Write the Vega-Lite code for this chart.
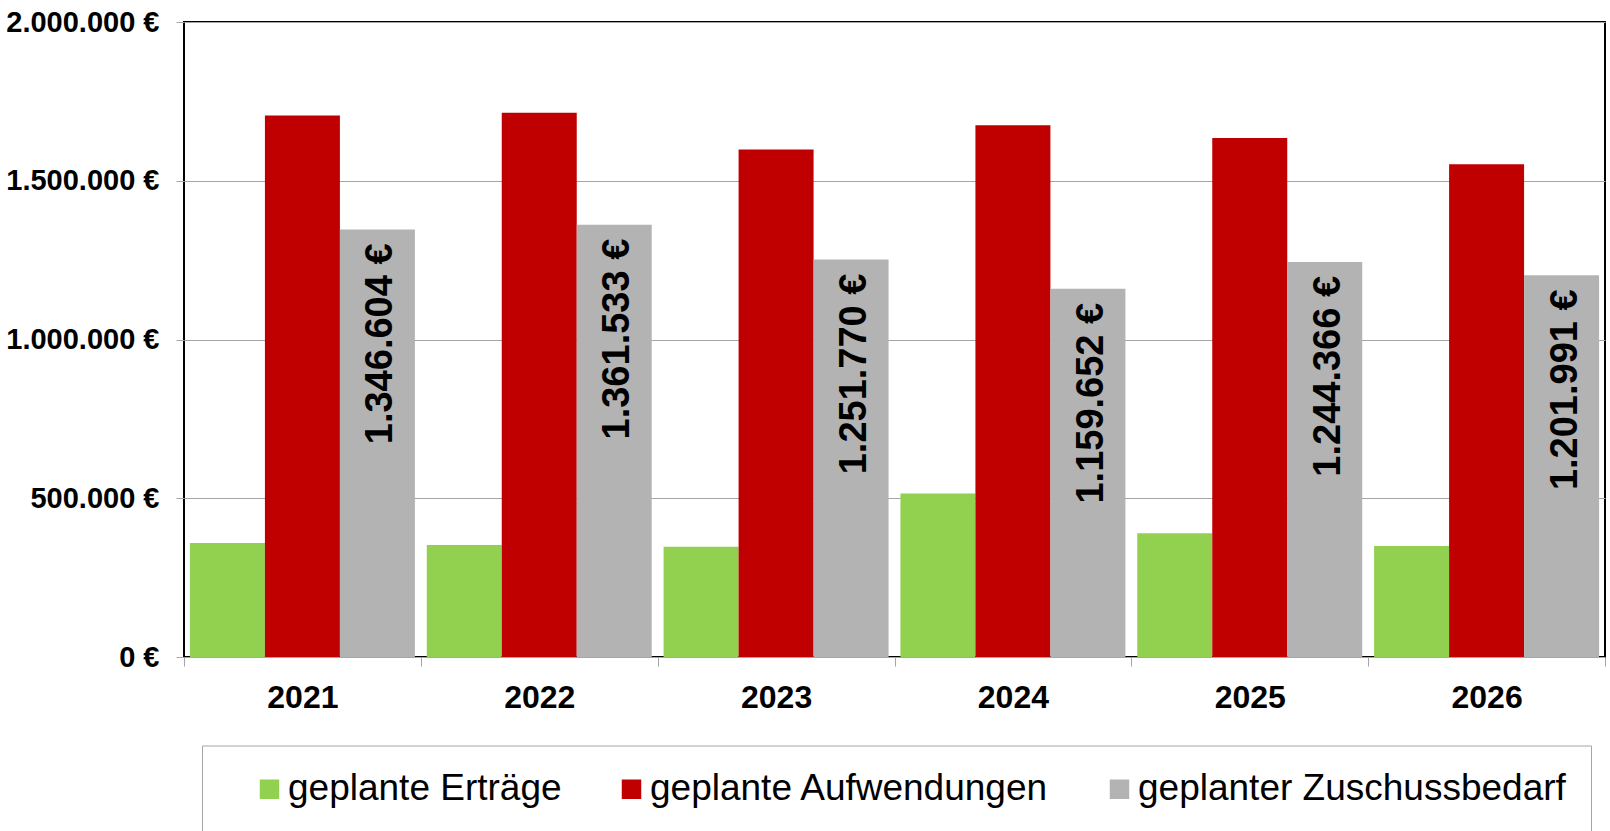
{
  "$schema": "https://vega.github.io/schema/vega-lite/v6.json",
  "width": 1421,
  "height": 635,
  "autosize": {"type": "none"},
  "padding": {"left": 184, "top": 22, "right": 5, "bottom": 174},
  "background": "white",
  "config": {
    "locale": {
      "number": {"decimal": ",", "thousands": ".", "grouping": [3], "currency": ["", " €"]}
    },
    "font": "Liberation Sans",
    "view": {"stroke": "#000000", "strokeWidth": 2}
  },
  "data": {
    "values": [
      {"year": "2021", "series": "geplante Erträge", "value": 359000},
      {"year": "2021", "series": "geplante Aufwendungen", "value": 1705604},
      {"year": "2021", "series": "geplanter Zuschussbedarf", "value": 1346604},
      {"year": "2022", "series": "geplante Erträge", "value": 353000},
      {"year": "2022", "series": "geplante Aufwendungen", "value": 1714533},
      {"year": "2022", "series": "geplanter Zuschussbedarf", "value": 1361533},
      {"year": "2023", "series": "geplante Erträge", "value": 347000},
      {"year": "2023", "series": "geplante Aufwendungen", "value": 1598770},
      {"year": "2023", "series": "geplanter Zuschussbedarf", "value": 1251770},
      {"year": "2024", "series": "geplante Erträge", "value": 515000},
      {"year": "2024", "series": "geplante Aufwendungen", "value": 1674652},
      {"year": "2024", "series": "geplanter Zuschussbedarf", "value": 1159652},
      {"year": "2025", "series": "geplante Erträge", "value": 390000},
      {"year": "2025", "series": "geplante Aufwendungen", "value": 1634366},
      {"year": "2025", "series": "geplanter Zuschussbedarf", "value": 1244366},
      {"year": "2026", "series": "geplante Erträge", "value": 350000},
      {"year": "2026", "series": "geplante Aufwendungen", "value": 1551991},
      {"year": "2026", "series": "geplanter Zuschussbedarf", "value": 1201991}
    ]
  },
  "encoding": {
    "x": {
      "field": "year",
      "type": "nominal",
      "title": null,
      "scale": {"paddingInner": 0, "paddingOuter": 0},
      "axis": {
        "tickBand": "extent",
        "domain": false,
        "ticks": true,
        "tickColor": "#a6a6a6",
        "tickSize": 9,
        "tickWidth": 1,
        "labelAngle": 0,
        "labelFont": "Liberation Sans",
        "labelFontSize": 32,
        "labelFontWeight": "bold",
        "labelColor": "#000000",
        "labelPadding": 16
      }
    },
    "xOffset": {
      "field": "series",
      "type": "nominal",
      "scale": {
        "domain": ["geplante Erträge", "geplante Aufwendungen", "geplanter Zuschussbedarf"],
        "paddingInner": 0,
        "paddingOuter": 0.079
      }
    },
    "y": {
      "field": "value",
      "type": "quantitative",
      "title": null,
      "scale": {"domain": [0, 2000000], "nice": false},
      "axis": {
        "values": [0, 500000, 1000000, 1500000, 2000000],
        "format": "$,.0f",
        "domain": false,
        "grid": true,
        "gridColor": "#a6a6a6",
        "gridWidth": 1,
        "tickColor": "#a6a6a6",
        "tickSize": 8,
        "labelFont": "Liberation Sans",
        "labelFontSize": 29,
        "labelFontWeight": "bold",
        "labelColor": "#000000",
        "labelPadding": 17,
        "labelOverlap": false,
        "labelFlush": false
      }
    }
  },
  "layer": [
    {
      "mark": {"type": "bar"},
      "encoding": {
        "color": {
          "field": "series",
          "type": "nominal",
          "scale": {
            "domain": ["geplante Erträge", "geplante Aufwendungen", "geplanter Zuschussbedarf"],
            "range": ["#92d050", "#c00000", "#b3b3b3"]
          },
          "legend": {
            "title": null,
            "orient": "none",
            "legendX": 18,
            "legendY": 723.5,
            "direction": "horizontal",
            "columns": 3,
            "strokeColor": "#a6a6a6",
            "fillColor": "#ffffff",
            "padding": 25,
            "symbolType": "square",
            "symbolSize": 380,
            "symbolStrokeWidth": 0,
            "symbolOpacity": 1,
            "symbolOffset": 24,
            "labelOffset": 0,
            "labelFont": "Liberation Sans",
            "labelFontSize": 37,
            "labelColor": "#000000",
            "labelLimit": 1000,
            "columnPadding": 27
          }
        }
      }
    },
    {
      "transform": [{"filter": "datum.series === 'geplanter Zuschussbedarf'"}],
      "mark": {
        "type": "text",
        "angle": 270,
        "align": "right",
        "baseline": "middle",
        "dx": -14,
        "dy": 4,
        "font": "Liberation Sans",
        "fontSize": 38,
        "fontWeight": "bold",
        "color": "#000000"
      },
      "encoding": {
        "text": {"field": "value", "type": "quantitative", "format": "$,.0f"}
      }
    }
  ]
}
